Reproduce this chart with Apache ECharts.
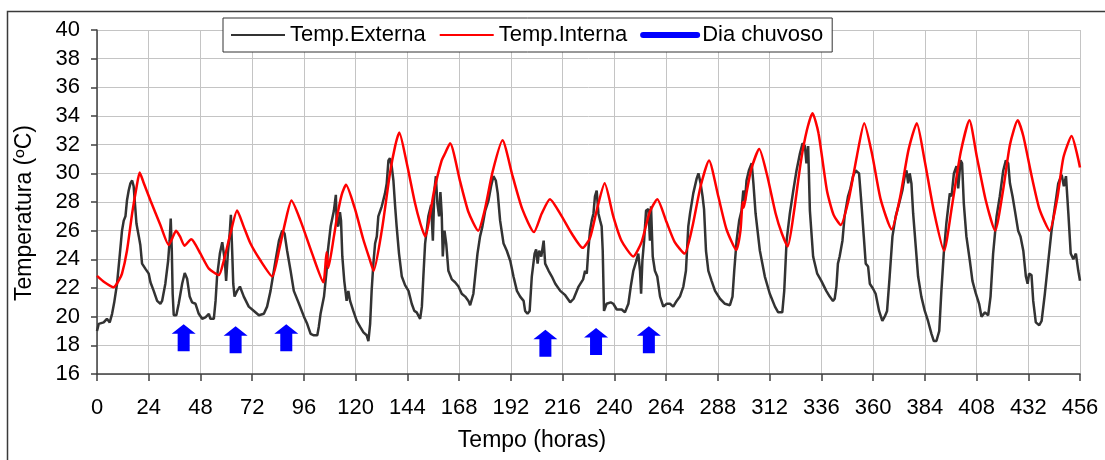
<!DOCTYPE html>
<html><head><meta charset="utf-8">
<script src="https://cdn.jsdelivr.net/npm/echarts@6/dist/echarts.min.js"></script>
<style>html,body{margin:0;padding:0;background:#fff}#c{width:1105px;height:460px}</style>
</head><body><div id="c"></div>
<script>
// ---- data ----
const xTickHours = [0,24,48,72,96,120,144,168,192,216,240,264,288,312,336,360,384,408,432,456];
const yTickTemps = [16,18,20,22,24,26,28,30,32,34,36,38,40];

const extHours = [0,0.8,3.1,4.6,5.9,7,8,9.3,10.5,11.6,12.4,13.2,13.9,14.7,15.5,16.3,17,17.5,18.3,19.4,20.1,20.9,22.4,24,24.8,26.3,27.9,29.4,30.2,31.7,33,33.7,34.2,34.7,35.1,35.6,36.8,37.9,39.5,40.7,41.8,43,44.1,45.7,47.2,48.8,50.3,51.9,52.6,54.2,55,55.7,57,58.1,58.8,59.3,59.9,60.7,61.6,62.1,62.7,63.2,63.8,65,66.3,68.1,70.4,72.8,75.1,77.4,78.9,80.5,81.6,82.8,84.4,85.9,87,88.2,89.8,91.3,93.7,96,97.5,99.1,100.6,102.2,102.9,103.7,105.3,106.5,107.1,108.4,109.9,110.8,111.2,111.9,112.7,113.2,113.8,114.7,115.8,116.6,117.4,118.9,120.5,122,123.6,125.1,125.9,126.7,127.4,128.2,129,129.8,130.5,132.1,133.6,134.4,135.2,135.9,136.7,137.5,138.3,139,140.1,141.4,142.9,144.5,146,147.2,148.3,149.9,150.7,151.4,152.2,153.7,155,155.8,156.5,157.2,157.9,158.7,159.3,159.9,160.4,161.2,162,163,164.6,166.1,167.7,169.2,170.8,172.3,173.1,173.9,174.6,175.4,176.5,177.7,178.8,180.1,181.6,182.8,183.9,185,185.9,187,188.6,190.1,191.7,193.2,194.8,196.3,197.9,198.6,199.7,200.7,201.7,203,203.7,204.4,205.1,206.1,207.2,207.9,209.5,211,212.6,214.9,217.2,219.5,221.1,223.4,225.5,226.4,227.2,227.9,228.7,229.5,230.3,231,231.8,232.6,233.4,234.1,234.6,235.2,236.4,238.3,239.5,241.1,243.4,244.9,246.5,247.6,248.8,250,251.1,251.9,252.4,253,253.8,254.7,255.8,256.5,257,257.8,258.8,259.9,261.2,262.7,264.3,265.8,267.3,268.9,270.4,272,273.2,274.3,275.1,276.6,278.2,279,280,280.9,281.6,282.5,283.6,285.1,286.7,289,291.3,293.6,294.8,295.6,296.7,297.9,299,299.8,300.6,301.3,302.4,303.7,304.5,305.5,307.5,309.8,312.1,314.5,316,317.9,318.8,319.9,321.4,323,324.5,326.1,327.3,328.4,329.1,329.9,330.7,332.2,334.1,336,338.3,339.9,341.4,342.2,343,343.7,344.5,345.8,346.8,348.4,349.5,350.7,351.95,353.5,354.6,355.7,356.6,357.7,358.5,360,361.2,362.8,364.3,365.4,366.5,367.7,369,370.5,372.1,373.6,374.7,375.5,376.3,377,377.8,378.6,379.8,380.9,382.4,384,385.5,387.1,388.2,389.4,390.7,391.7,392.8,394,395.6,396.4,397.5,398.7,399.5,400.6,401.3,402.1,403.3,404.9,406.1,407.7,409.2,410.3,411.9,413.4,414.5,415.7,417.3,418.8,420.4,421.6,422.7,423.5,424.7,425.8,427.3,428.4,429.7,430.9,431.7,432.4,433.5,434.3,435.5,437.1,438.2,439.7,441.3,442.8,444.4,445.9,447.5,448.5,449.5,450.6,451.7,452.9,454.1,455.2,456];
const extTemps = [19.0,19.5,19.6,19.85,19.6,20.2,21.0,22.3,24.2,26.0,26.7,27.0,28.1,28.8,29.3,29.5,29.1,28.1,26.5,25.6,25.0,23.7,23.35,23.0,22.4,21.8,21.1,20.9,21.1,22.3,23.9,25.3,26.85,24.6,21.6,20.1,20.1,20.9,22.3,23.05,22.65,21.4,21.0,20.9,20.2,19.85,19.95,20.2,19.85,19.85,21.1,22.8,24.4,25.2,25.3,23.9,22.5,24.4,25.9,27.1,24.6,22.3,21.4,21.8,22.1,21.4,20.7,20.4,20.1,20.2,20.7,21.8,22.8,23.9,25.3,26.0,25.8,24.6,23.2,21.8,20.9,20.0,19.5,18.8,18.7,18.7,19.3,20.2,21.4,23.2,24.6,26.3,27.4,28.5,26.5,26.3,27.3,26.7,24.2,22.5,21.1,21.8,21.1,20.4,19.7,19.3,18.9,18.7,18.3,19.5,21.8,23.7,25.1,25.6,27.0,27.7,28.6,29.3,30.9,31.05,30.5,29.5,27.7,26.3,24.4,22.8,22.2,21.8,20.9,20.4,20.3,19.85,20.7,22.8,25.1,27.0,27.8,25.3,28.8,29.8,27.9,27.0,28.7,27.2,24.2,26.0,25.1,23.2,22.6,22.4,22.1,21.6,21.4,21.1,20.8,20.7,21.6,22.8,24.4,25.6,26.3,27.4,28.1,29.1,29.8,29.5,28.6,26.7,25.1,24.6,23.9,22.8,21.8,21.4,21.1,20.4,20.2,20.4,22.8,24.4,24.7,23.7,24.6,24.2,25.3,23.7,23.2,22.8,22.3,21.8,21.5,21.0,21.25,22.1,22.6,23.2,23.0,24.6,26.0,26.7,27.2,28.4,28.8,27.2,26.7,26.3,24.6,20.4,20.9,21.0,20.9,20.5,20.5,20.3,20.9,22.1,23.2,23.8,24.4,23.2,21.6,23.9,25.3,27.4,27.5,25.3,27.7,24.2,23.2,22.8,21.4,20.7,20.9,20.9,20.7,21.1,21.4,22.1,23.2,26.3,27.2,28.6,29.65,30.0,29.3,28.4,27.5,24.6,23.2,22.5,21.8,21.25,20.9,20.8,21.4,23.2,25.3,26.7,27.4,28.8,28.1,29.5,30.2,30.7,29.3,27.2,24.6,22.8,21.6,20.7,20.3,20.3,21.8,25.3,27.2,28.8,30.2,31.4,32.1,31.9,30.7,31.9,27.4,24.2,23.0,22.5,21.8,21.4,21.1,21.25,22.1,23.7,24.2,25.3,27.0,28.4,28.95,29.8,30.2,30.0,27.9,25.6,23.7,23.5,22.3,21.95,21.6,20.4,19.7,20.0,20.4,22.8,25.6,27.0,27.9,28.8,29.8,30.2,29.3,30.0,29.3,27.2,24.9,22.8,21.4,20.4,19.7,18.8,18.3,18.3,19.0,21.8,24.4,26.5,28.6,28.4,30.0,30.5,28.95,30.9,30.7,27.9,25.6,23.9,22.5,21.6,20.9,20.0,20.3,20.1,21.4,24.4,27.0,28.4,30.2,30.9,30.7,29.3,28.4,27.4,26.0,25.6,24.6,22.8,22.3,23.0,22.9,21.1,19.6,19.4,19.7,21.6,23.9,26.0,27.7,29.3,29.9,29.1,29.8,27.2,24.4,24.0,24.4,23.2,22.5];

const intHours = [0,3.5,7.7,10,11.6,13.9,16.3,18.3,19.8,21.5,24.8,29.4,33.3,35,36.7,38.5,40.6,43.7,45,48,51.9,56.5,58.8,61.9,65,68,71.2,75.9,81.3,84.4,87.5,90.2,94.4,99.8,105,106.5,107.3,109.9,111.4,113.5,115.5,119.5,123.5,126.5,128.3,132.1,135.9,138.3,140.2,143.7,147.4,150,152.2,156.4,159.9,161.5,163.8,168.5,172.3,176.8,179.8,183.5,188.1,192.8,197.3,202.7,206.3,210.1,215.6,220.2,225.3,228.7,232.1,235.5,239.5,243.3,248.8,252.6,256.4,259.9,264.2,268,272.6,276.1,280,283.9,288.2,292,296.6,298.5,299.5,300,301.5,303.5,307.2,310.8,314.8,317.7,320.4,323.2,326.5,329.3,331.9,334.7,338.6,341.7,345,348.6,352.5,355.9,359.6,363.5,368.6,372.5,376.4,380.3,383.8,388.3,392.9,396.8,400.7,404.7,408.1,412.3,416.6,420.5,423.5,427.1,429.7,433.3,437.2,441.9,445.5,448.3,452.1,456];
const intTemps = [22.85,22.4,22.05,22.5,23.0,24.6,27.2,29.0,30.05,29.4,28.1,26.4,25.0,25.5,26.0,25.6,24.95,25.4,25.2,24.4,23.35,22.9,23.9,25.8,27.4,26.3,25.1,23.9,22.8,24.6,26.7,28.1,26.7,24.4,22.4,24.5,23.4,25.6,27.0,28.5,29.2,27.6,25.4,24.0,23.2,26.0,30.0,31.9,32.85,30.7,28.0,26.5,25.6,28.8,30.9,31.4,32.1,29.4,27.3,26.0,27.4,30.1,32.3,29.8,27.5,25.9,27.2,28.2,27.0,25.8,24.8,25.5,27.6,29.3,27.0,25.3,24.2,25.2,27.3,28.2,26.6,25.2,24.4,26.2,29.1,30.9,28.4,26.1,24.65,26.0,28.0,27.6,28.8,30.3,31.7,29.9,27.2,25.8,24.9,27.2,30.8,33.0,34.2,32.8,28.8,27.1,26.4,28.1,31.2,33.5,31.3,28.2,26.1,28.3,31.6,33.5,31.0,27.3,24.6,27.9,31.5,33.7,31.2,28.1,26.0,29.0,32.0,33.7,32.6,30.0,27.5,26.0,28.3,31.1,32.6,30.4];

const rainHours = [40.2,64.3,87.8,208.0,231.5,256.0];
const rainLevel = [18.53,18.39,18.53,18.15,18.27,18.39];

const seriesNames = ['Temp.Externa','Temp.Interna','Dia chuvoso'];
const xTitle = 'Tempo (horas)';
const yTitle = 'Temperatura (ºC)';

// ---- chart ----
const FONT = '"Liberation Sans", Arial, sans-serif';
const zip = (a, b) => a.map((v, i) => [v, b[i]]);
const chart = echarts.init(document.getElementById('c'), null, {renderer: 'canvas'});
const arrowPath = 'path://M12,0 L24,9.5 L18,9.5 L18,27 L6,27 L6,9.5 L0,9.5 Z';

chart.setOption({
  animation: false,
  backgroundColor: '#fff',
  textStyle: {fontFamily: FONT},
  grid: {left: 97, right: 25, top: 30, bottom: 86, outerBoundsMode: 'none', containLabel: false},
  legend: {
    left: 223, top: 18,
    padding: [6, 9, 6, 7],
    itemWidth: 54, itemHeight: 14, itemGap: 13,
    borderColor: '#333', borderWidth: 1, borderRadius: 0,
    backgroundColor: '#fff',
    textStyle: {fontSize: 22, color: '#000', fontFamily: FONT},
    itemStyle: {opacity: 0},
    data: [
      {name: seriesNames[0]},
      {name: seriesNames[1]},
      {name: seriesNames[2], lineStyle: {width: 6, cap: 'round', color: '#0000ff'}}
    ]
  },
  xAxis: {
    type: 'value',
    min: xTickHours[0], max: xTickHours[xTickHours.length - 1], interval: 24,
    axisLine: {show: true, onZero: false, lineStyle: {color: '#404040', width: 1.5}},
    axisTick: {show: true, length: 7, lineStyle: {color: '#404040', width: 1.5}},
    axisLabel: {fontSize: 22, color: '#000', margin: 23, fontFamily: FONT},
    splitLine: {show: true, lineStyle: {color: '#c4c4c4', width: 1}}
  },
  yAxis: {
    type: 'value',
    min: yTickTemps[0], max: yTickTemps[yTickTemps.length - 1], interval: 2,
    axisLine: {show: true, onZero: false, lineStyle: {color: '#404040', width: 1.5}},
    axisTick: {show: true, length: 6, lineStyle: {color: '#404040', width: 1.5}},
    axisLabel: {fontSize: 22, color: '#000', margin: 17, fontFamily: FONT},
    splitLine: {show: true, lineStyle: {color: '#c4c4c4', width: 1}}
  },
  graphic: [
    {type: 'rect', z: -10, silent: true, shape: {x: 7.5, y: 11.5, width: 1200, height: 600},
     style: {fill: 'none', stroke: '#3a3a3a', lineWidth: 1.5}},
    {type: 'text', x: 532, y: 441, silent: true,
     style: {text: xTitle, fontSize: 23, fontFamily: FONT, fill: '#000', align: 'center', verticalAlign: 'middle'}},
    {type: 'text', x: 25, y: 213, rotation: Math.PI / 2, silent: true,
     style: {text: yTitle, fontSize: 23, fontFamily: FONT, fill: '#000', align: 'center', verticalAlign: 'middle'}}
  ],
  series: [
    {name: seriesNames[0], type: 'line', symbol: 'none', z: 3,
     data: zip(extHours, extTemps),
     itemStyle: {color: '#333333'},
     lineStyle: {color: '#333333', width: 2.5}},
    {name: seriesNames[1], type: 'line', symbol: 'none', z: 4, smooth: 0.2,
     data: zip(intHours, intTemps),
     itemStyle: {color: '#ff0000'},
     lineStyle: {color: '#ff0000', width: 2.5}},
    {name: seriesNames[2], type: 'line', symbol: 'none', data: [],
     itemStyle: {color: '#0000ff'},
     lineStyle: {color: '#0000ff', width: 6, cap: 'round'}},
    {name: seriesNames[2], type: 'scatter', z: 5,
     symbol: arrowPath, symbolSize: [24, 27], symbolKeepAspect: false,
     data: zip(rainHours, rainLevel),
     itemStyle: {color: '#0000ff', opacity: 1}}
  ]
});
</script>
</body></html>
